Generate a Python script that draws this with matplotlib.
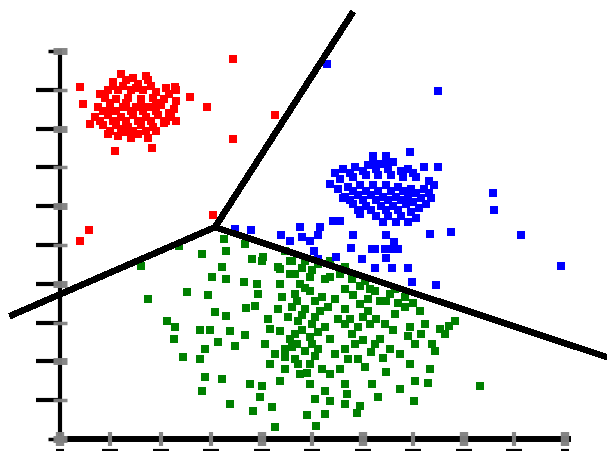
import matplotlib
matplotlib.use("Agg")
import matplotlib.pyplot as plt

# ---------------- data (axis units 0..10) ----------------
tick_values = list(range(0, 11))

red_x = [1.20, 1.30, 1.05, 1.55, 1.75, 2.10, 2.30, 0.95, 1.15, 1.40, 1.65, 1.90,
         0.90, 1.10, 1.35, 1.60, 1.85, 2.05, 2.30, 0.75, 1.00, 1.25, 1.50, 1.75,
         2.00, 2.25, 0.70, 0.95, 1.20, 1.45, 1.70, 1.95, 2.20, 0.85, 1.10, 1.35,
         1.60, 1.85, 2.05, 0.95, 1.30, 1.55, 1.75, 1.90,
         1.25, 1.50, 1.80, 1.00, 1.30, 1.60, 1.90, 2.15, 0.85, 1.10, 1.40, 1.65,
         1.90, 2.15, 0.80, 1.05, 1.30, 1.55, 1.80, 2.10, 1.00, 1.20, 1.45, 1.70,
         1.15, 1.40, 2.30, 1.05, 1.45, 0.80,
         0.40, 0.46, 1.70, 3.43, 2.28, 2.57, 2.91, 3.43, 1.09, 1.82, 4.26, 3.03,
         0.57, 0.40, 0.59]
red_y = [9.40, 9.25, 9.20, 9.15, 9.25, 9.05, 9.00, 9.00, 9.00, 9.00, 9.00, 8.95,
         8.80, 8.75, 8.80, 8.75, 8.80, 8.75, 8.70, 8.55, 8.55, 8.55, 8.55, 8.55,
         8.60, 8.50, 8.30, 8.35, 8.30, 8.35, 8.30, 8.35, 8.30, 8.10, 8.10, 8.05,
         8.10, 8.05, 8.15, 7.85, 7.90, 7.85, 7.75, 7.95,
         9.10, 9.05, 9.10, 8.65, 8.65, 8.65, 8.65, 8.90, 8.45, 8.45, 8.45, 8.45,
         8.45, 8.40, 8.20, 8.20, 8.20, 8.20, 8.20, 8.20, 7.95, 8.00, 7.95, 7.95,
         7.80, 7.75, 8.20, 9.10, 9.30, 8.90,
         9.07, 8.63, 9.36, 9.79, 9.07, 8.81, 8.56, 7.73, 7.42, 7.50, 8.35, 5.77,
         5.39, 5.10, 8.12]

blue_x = [6.93, 6.20, 6.45, 6.60, 6.35, 6.10, 5.85, 5.60, 7.49, 7.20, 6.90, 5.35,
          5.55, 5.80, 6.05, 6.30, 6.55, 6.80, 7.05, 7.30, 5.70, 5.95, 6.20, 6.45,
          6.70, 6.95, 7.20, 7.40, 5.65, 5.90, 6.15, 6.40, 6.65, 6.90, 7.15, 7.35,
          5.80, 6.05, 6.35, 6.60, 6.85, 7.10, 5.95, 6.25, 6.50, 6.75, 7.05, 5.41,
          6.20, 6.45, 5.75, 6.00, 6.25, 6.50, 6.75, 7.00, 5.50, 5.80, 6.05, 6.30,
          6.55, 6.80, 7.05, 7.30, 5.75, 6.00, 6.25, 6.50, 6.75, 7.00, 7.25, 5.90,
          6.15, 6.45, 6.70, 6.95, 6.40, 6.65, 6.90, 5.45, 5.60,
          8.57, 8.59, 9.13, 9.92, 7.49, 5.29, 7.33, 7.74, 6.97, 7.45,
          3.47, 3.78, 4.38, 4.55, 4.75, 4.79, 4.95, 5.11, 5.03, 5.11, 5.47, 5.15,
          5.80, 5.76, 5.98, 6.46, 6.61, 6.24, 6.57, 6.46, 6.24, 6.57, 6.89, 5.54,
          6.18, 6.44, 6.69]
blue_y = [7.40, 7.30, 7.30, 7.15, 7.10, 7.05, 7.00, 6.95, 7.01, 7.00, 6.95, 6.57,
          6.70, 6.75, 6.80, 6.80, 6.80, 6.75, 6.75, 6.65, 6.50, 6.55, 6.55, 6.55,
          6.50, 6.45, 6.45, 6.55, 6.25, 6.30, 6.30, 6.25, 6.25, 6.25, 6.20, 6.20,
          6.05, 6.00, 6.00, 6.00, 6.05, 5.95, 5.80, 5.75, 5.75, 5.75, 5.70, 5.62,
          7.15, 7.15, 6.85, 6.90, 6.95, 6.95, 6.90, 6.85, 6.45, 6.40, 6.40, 6.40,
          6.40, 6.40, 6.35, 6.35, 6.15, 6.15, 6.15, 6.15, 6.15, 6.10, 6.05, 5.90,
          5.90, 5.90, 5.90, 5.85, 5.60, 5.60, 5.60, 6.85, 6.20,
          6.34, 5.90, 5.26, 4.46, 8.98, 9.66, 5.28, 5.34, 4.05, 3.97,
          5.41, 5.39, 5.26, 5.10, 5.46, 5.21, 5.10, 5.26, 4.85, 4.64, 4.69, 5.46,
          5.26, 4.92, 4.64, 5.26, 5.08, 4.90, 4.90, 4.66, 4.41, 4.41, 4.41, 5.62,
          4.90, 4.90, 4.90]

green_x = [1.60, 2.36, 2.81, 3.25, 3.29, 3.66, 3.80, 4.00, 3.21, 3.01, 3.29, 3.64,
           3.90, 3.92, 3.86, 3.68, 2.51, 2.93, 1.74, 3.07, 3.29, 2.12, 2.28, 2.26,
           2.77, 2.97, 3.37, 3.66, 3.13, 2.87, 2.77, 3.47, 2.44, 2.87, 3.21, 2.81,
           3.37, 3.76, 4.00, 3.96, 3.82, 4.20, 4.26, 4.36, 4.12, 4.16, 4.06, 4.26,
           4.46, 4.65, 4.16, 4.46, 4.46, 4.55, 4.02,
           4.59, 4.85, 5.11, 4.65, 4.95, 5.25, 4.75, 4.65, 4.95, 5.19, 4.59, 4.85,
           5.15, 4.71, 4.99, 5.25, 4.65, 4.95, 5.54, 5.78, 6.04, 5.64, 6.24, 6.53,
           6.83, 6.34, 5.64, 5.90, 6.14, 5.78, 5.94, 6.10, 6.83, 7.13, 6.93, 7.23,
           7.52, 7.70, 7.03, 7.37, 6.73, 6.93, 7.33, 4.59, 4.85, 5.11, 4.95, 5.19,
           4.75, 5.64, 5.90, 6.04, 6.46, 7.03, 7.29, 5.64, 5.68, 6.18, 6.30, 6.73,
           7.01, 5.64, 5.94, 5.88, 4.95, 5.25, 5.05, 5.35, 4.89, 5.25, 5.07, 8.32,
           5.45, 5.64, 5.50, 5.35, 5.45, 5.54, 5.35, 5.84, 6.34, 6.53, 6.44, 6.63,
           6.24, 4.36, 5.35, 7.82, 7.62, 7.43, 5.35, 5.64, 4.32, 4.55, 4.36, 4.40,
           4.32, 4.51, 4.36, 4.55, 4.46, 4.71, 6.14, 6.63,
           4.80, 5.00, 4.70, 4.85, 5.05, 4.80, 5.05, 4.80, 5.10, 4.70, 5.00, 5.30,
           5.80, 5.95, 6.10, 6.45, 6.70, 7.00, 5.75, 6.00, 6.25, 6.60, 6.90, 7.15,
           6.00, 6.15, 6.40, 5.70, 4.90, 5.05]
green_y = [4.46, 4.97, 4.77, 5.15, 4.85, 5.03, 4.64, 4.59, 4.43, 4.18, 4.12, 4.05,
           3.99, 3.74, 3.43, 3.38, 3.79, 3.71, 3.61, 3.27, 3.17, 3.04, 2.89, 2.58,
           2.81, 2.81, 2.78, 2.68, 2.50, 2.32, 2.06, 2.40, 2.11, 1.60, 1.55, 1.24,
           0.90, 1.42, 1.37, 1.08, 0.72, 0.82, 0.31, 1.49, 3.09, 2.84, 2.45, 2.19,
           2.32, 2.06, 1.93, 1.80, 4.85, 4.59, 4.69,
           4.59, 4.59, 4.51, 4.25, 4.18, 4.12, 3.99, 3.74, 3.81, 3.66, 3.40, 3.35,
           3.30, 3.04, 2.96, 2.89, 2.71, 2.63, 4.25, 4.12, 4.07, 3.87, 3.81, 3.74,
           3.66, 3.56, 2.96, 2.89, 2.96, 2.71, 3.48, 3.30, 3.40, 3.30, 2.89, 2.96,
           2.84, 2.91, 2.45, 2.45, 2.19, 1.93, 1.80, 2.37, 2.27, 2.32, 1.93, 1.80,
           1.68, 2.32, 2.06, 1.86, 1.73, 1.49, 1.44, 1.42, 1.16, 1.42, 1.08, 1.29,
           0.98, 0.90, 0.85, 0.67, 1.42, 1.24, 1.03, 0.98, 0.62, 0.64, 0.34, 1.37,
           3.61, 3.35, 3.09, 2.58, 2.19, 1.80, 1.68, 2.45, 2.58, 2.32, 2.96, 3.22,
           2.45, 4.38, 4.18, 3.04, 2.71, 2.27, 4.59, 4.43, 4.43, 4.25, 3.99, 3.66,
           3.35, 3.14, 2.78, 2.58, 2.11, 1.93, 3.87, 3.87,
           4.40, 4.35, 3.55, 3.90, 3.55, 3.20, 3.15, 2.80, 2.75, 2.45, 2.45, 3.40,
           3.70, 3.95, 3.60, 3.55, 3.50, 3.50, 3.10, 3.15, 3.10, 2.80, 2.65, 2.70,
           2.55, 2.25, 2.10, 2.05, 1.70, 2.15]

# decision boundaries: three segments from a common junction
junction = (3.07, 5.46)
boundary_ends_x = [5.80, -0.99, 10.83]
boundary_ends_y = [11.00, 3.17, 2.11]

# ---------------- drawing ----------------
fig = plt.figure(figsize=(6.07, 4.52), dpi=100)
ax = fig.add_axes([0, 0, 1, 1])
ax.set_xlim(-1.188, 10.832)
ax.set_ylim(-0.309, 11.34)

ms = 40
ax.scatter(green_x, green_y, marker='s', s=ms, color='#008000', linewidths=0, zorder=2)
ax.scatter(blue_x, blue_y, marker='s', s=ms, color='#0000ff', linewidths=0, zorder=2)
ax.scatter(red_x, red_y, marker='s', s=ms, color='#ff0000', linewidths=0, zorder=2)

for ex, ey in zip(boundary_ends_x, boundary_ends_y):
    ax.plot([junction[0], ex], [junction[1], ey], color='black', lw=3.8,
            solid_capstyle='butt', zorder=3, clip_on=False, antialiased=False)

# axes styling
for s in ['top', 'right']:
    ax.spines[s].set_visible(False)
ax.spines['left'].set_position(('data', 0))
ax.spines['bottom'].set_position(('data', 0))
ax.spines['left'].set_bounds(0, 10)
ax.spines['bottom'].set_bounds(0, 10.05)
ax.spines['left'].set_linewidth(3)
ax.spines['bottom'].set_linewidth(4.3)

ax.set_yticks(tick_values[1:-1])
ax.set_yticks([tick_values[0], tick_values[-1]], minor=True)
ax.tick_params(axis='y', which='major', direction='out', length=17, width=3,
               color='black', labelleft=False)
ax.tick_params(axis='y', which='minor', direction='out', length=9, width=2.5,
               color='black', labelleft=False)
ax.set_xticks(tick_values)
ax.tick_params(axis='x', which='both', length=0, labelbottom=False)

# gray tick markers on the spines
for v in tick_values:
    big = (v % 2 == 0)
    ax.plot([0], [v], marker='_', markersize=9.5, mew=5 if big else 2.5,
            color='#808080', clip_on=False, zorder=4, alpha=0.95)
    wide = v in (0, 4, 6, 8, 10)
    ax.plot([v], [0], marker='|', markersize=9.5, mew=6 if wide else 3,
            color='#808080', clip_on=False, zorder=4, alpha=0.95)
    # truncated label marks below the x axis
    ax.plot([v], [-0.30], marker='_', markersize=12 if 0 < v < 10 else 6,
            mew=3, color='black', clip_on=False, zorder=4)

fig.savefig('out.png', dpi=100)
